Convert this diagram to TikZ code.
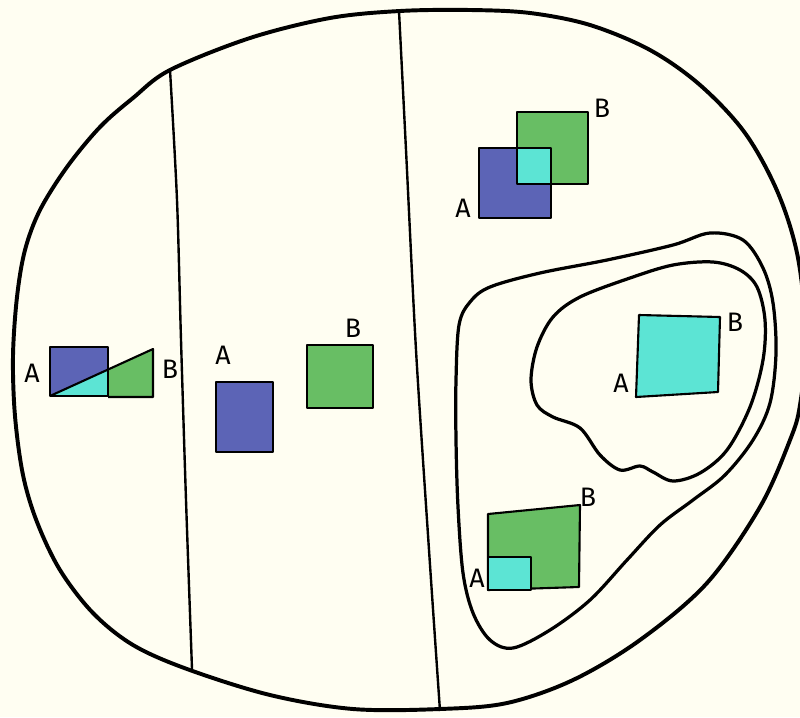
\documentclass[tikz,border=0pt]{standalone}
\usepackage{fontspec}
\setmainfont{Fira Sans}
\definecolor{bg}{RGB}{255,254,242}
\definecolor{ablue}{RGB}{92,100,182}
\definecolor{bgreen}{RGB}{104,190,100}
\definecolor{acyan}{RGB}{92,228,212}
\begin{document}
\begin{tikzpicture}[x=0.025cm,y=-0.025cm,
  lbl/.style={font=\fontsize{19}{20}\selectfont, inner sep=0pt},
  edge/.style={draw=black, line width=1.5pt, line join=round},
  outline/.style={draw=black, line width=2.8pt},
  blob/.style={draw=black, line width=2.3pt},
  divider/.style={draw=black, line width=1.7pt}]
\fill[bg] (0,0) rectangle (800,717);
\useasboundingbox (0,0) rectangle (800,717);
\clip (0,0) rectangle (800,717);

% outer boundary
\draw[outline] plot[smooth cycle, tension=0.55] coordinates {
 (400,11) (470,10) (530,13) (590,25) (650,50) (700,85) (745,133) (778,193)
 (798,258) (806,340) (800,405) (790,440) (760,507) (707,583) (640,640)
 (573,680) (507,703) (440,709) (353,709) (270,695) (187,669) (133,645)
 (93,613) (60,570) (37,522) (23,475) (15,416) (13,356) (17,297) (25,250)
 (40,210) (67,167) (100,127) (133,98) (170,70) (250,38) (330,18)};

% dividers
\coordinate (d1t) at (170,70);
\coordinate (d1b) at (192,669);
\coordinate (d2t) at (399,11);
\coordinate (d2b) at (440,711);
\draw[divider] plot[smooth, tension=0.5] coordinates {(d1t) (177,200) (181,340) (186,500) (d1b)};
\draw[divider] plot[smooth, tension=0.5] coordinates {(d2t) (406,150) (416,350) (429,550) (d2b)};

% left panel
\fill[ablue] (50,347) -- (108,347) -- (108,369.5) -- (50,396) -- cycle;
\fill[acyan] (50,396) -- (108,369.5) -- (108,396) -- cycle;
\fill[bgreen] (108,369.5) -- (153,349) -- (153,397) -- (108,397) -- cycle;
\draw[edge] (50,347) rectangle (108,396);
\draw[edge] (50,396) -- (153,349) -- (153,397) -- (108,397);
\node[lbl] (la) at (32,373) {A};
\node[lbl] (lb) at (170,369) {B};

% middle panel
\draw[edge, fill=ablue] (216,382) rectangle (273,452);
\draw[edge, fill=bgreen] (307,345) rectangle (373,408);
\node[lbl] (ma) at (223,355) {A};
\node[lbl] (mb) at (353,328) {B};

% right panel, overlapping squares
\fill[ablue] (479,148) rectangle (551,218);
\fill[bgreen] (517,112) rectangle (588,184);
\fill[acyan] (517,148) rectangle (551,184);
\draw[edge] (479,148) rectangle (551,218);
\draw[edge] (517,112) rectangle (588,184);
\node[lbl] (ta) at (463,208) {A};
\node[lbl] (tb) at (602,108) {B};

% outer blob
\draw[blob] plot[smooth cycle, tension=0.55] coordinates {
 (710,233) (743,240) (763,268) (773,303) (776,353) (770,403) (753,440)
 (725,475) (693,500) (660,525) (627,560) (590,600) (550,630) (513,648)
 (490,640) (473,613) (463,573) (458,507) (456,440) (456,380) (459,325)
 (470,302) (490,287) (540,273) (607,260) (673,245)};

% inner blob
\draw[blob] plot[smooth cycle, tension=0.55] coordinates {
 (630,278) (673,265) (713,262) (740,270) (757,287) (765,320) (763,360)
 (750,407) (727,450) (700,473) (673,481) (653,472) (640,466) (620,470)
 (600,455) (580,428) (553,417) (537,405) (531,380) (537,347) (553,317)
 (580,297)};

% equal squares
\draw[edge, fill=acyan] (639,315) -- (720,317) -- (718,392) -- (636,397) -- cycle;
\node[lbl] (ia) at (621,383) {A};
\node[lbl] (ib) at (735,322) {B};

% subset squares
\draw[edge, fill=bgreen] (488,514) -- (580,505) -- (579,587) -- (488,590) -- cycle;
\draw[edge, fill=acyan] (488,557) rectangle (531,590);
\node[lbl] (sa) at (477,578) {A};
\node[lbl] (sb) at (588,497) {B};
\end{tikzpicture}
\end{document}
